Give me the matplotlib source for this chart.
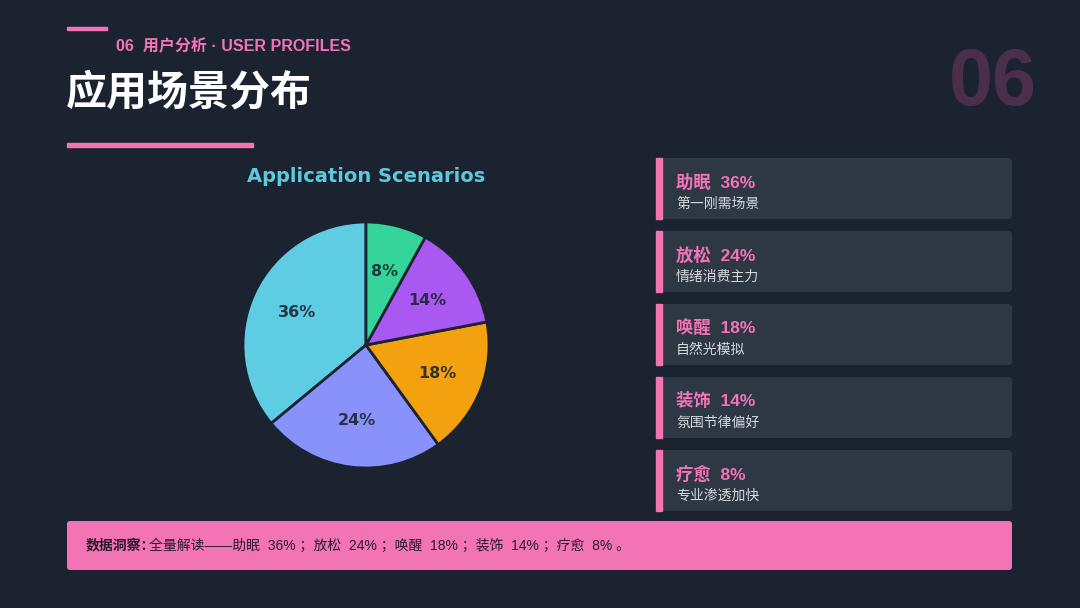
import matplotlib
matplotlib.use('Agg')
import matplotlib.pyplot as plt
from matplotlib.patches import FancyBboxPatch, Rectangle

# data
scenes = ['助眠', '放松', '唤醒', '装饰', '疗愈']
shares = [36, 24, 18, 14, 8]
notes = ['第一刚需场景', '情绪消费主力', '自然光模拟', '氛围节律偏好', '专业渗透加快']
slice_colors = ['#5ecde3', '#8991fb', '#f4a10f', '#a958f2', '#35d49a']

BG = '#1b2330'
PINK = '#f274b4'
CARD = '#2e3744'
FONT = ['Liberation Sans', 'Noto Sans CJK SC', 'DejaVu Sans']
CJK = ['Noto Sans CJK SC', 'DejaVu Sans']

fig = plt.figure(figsize=(10.8, 6.08), dpi=100, facecolor=BG)
bg = fig.add_axes([0, 0, 1, 1])
bg.set_xlim(0, 1080)
bg.set_ylim(608, 0)
bg.axis('off')
bg.set_facecolor(BG)

# header
bg.add_patch(Rectangle((67, 27), 40, 3, color=PINK))
bg.text(116, 45, '06  用户分析 · USER PROFILES', color=PINK, fontsize=11.5,
        fontweight='bold', family=FONT, va='center')
bg.text(66, 92, '应用场景分布', color='white', fontsize=29.5, fontweight='bold',
        family=CJK, va='center')
bg.add_patch(Rectangle((67, 143), 186, 4, color=PINK))
bg.text(1037, 85, '06', color='#4b2f4a', fontsize=57, fontweight='bold',
        family=FONT, va='center', ha='right')

# pie
cx, cy, r = 366, 345, 123
pax = fig.add_axes([(cx - r) / 1080, (608 - cy - r) / 608, 2 * r / 1080, 2 * r / 608])
wedges, texts, autotexts = pax.pie(
    shares, colors=slice_colors, startangle=90, counterclock=True,
    autopct=lambda p: f'{p:.0f}%', pctdistance=0.62,
    wedgeprops=dict(edgecolor=BG, linewidth=2))
for t in autotexts:
    t.set_color('#1b2330')
    t.set_fontsize(11.5)
    t.set_fontweight('bold')
    t.set_alpha(0.88)
pax.set_xlim(-1, 1)
pax.set_ylim(-1, 1)
pax.set_aspect('auto')
bg.text(366, 176, 'Application Scenarios', color='#5ec8dc', fontsize=14,
        fontweight='bold', ha='center', va='center', family='DejaVu Sans')

# cards
for i, (name, val, note) in enumerate(zip(scenes, shares, notes)):
    top = 158 + i * 73
    bg.add_patch(FancyBboxPatch((656, top), 356, 61,
                                boxstyle='round,pad=0,rounding_size=4',
                                facecolor=CARD, edgecolor='none'))
    bg.add_patch(Rectangle((656, top), 6, 61, color=PINK))
    bg.text(676, top + 24, f'{name}  {val}%', color=PINK, fontsize=12.5,
            fontweight='bold', family=FONT, va='center')
    bg.text(676, top + 46, note, color='#d5d9df', fontsize=10,
            family=CJK, va='center')

# insight bar
bg.add_patch(FancyBboxPatch((67, 521), 945, 49,
                            boxstyle='round,pad=0,rounding_size=3',
                            facecolor=PINK, edgecolor='none'))
t1 = bg.text(86, 546, '数据洞察：', color='#2a1b2a', fontsize=10,
             fontweight='bold', family=CJK, va='center')
summary = '全量解读——' + ' ；'.join(f'{n}  {v}%' for n, v in zip(scenes, shares)) + ' 。'
bg.annotate(summary, xy=(1, 0.5), xycoords=t1, xytext=(-6, 0),
            textcoords='offset pixels', va='center', ha='left',
            color='#2a1b2a', fontsize=10, family=FONT)

fig.savefig('out.png', dpi=100, facecolor=BG)
